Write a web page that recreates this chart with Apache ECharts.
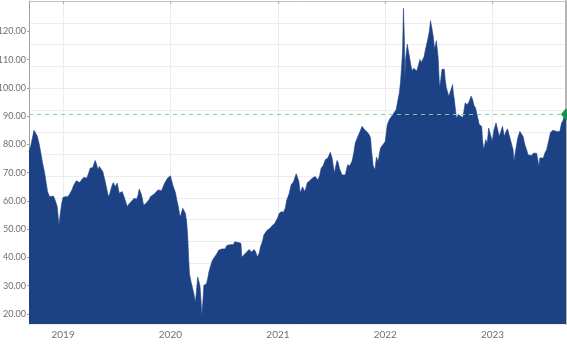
<!DOCTYPE html>
<html>
<head>
<meta charset="utf-8">
<script src="https://cdn.jsdelivr.net/npm/echarts@6/dist/echarts.min.js"></script>
<style>html,body{margin:0;padding:0;background:#fff}#c{width:567px;height:356px}</style>
</head>
<body>
<div id="c"></div>
<script>
const dates = [
'2018-09-07','2018-09-13','2018-09-18','2018-09-24','2018-09-29','2018-10-05','2018-10-12','2018-10-18','2018-10-23','2018-10-30',
'2018-11-05','2018-11-09','2018-11-16','2018-11-21','2018-11-29','2018-12-04','2018-12-08','2018-12-12','2018-12-18','2018-12-22',
'2018-12-27','2019-01-01','2019-01-10','2019-01-17','2019-01-24','2019-01-31','2019-02-06','2019-02-15','2019-02-21','2019-02-27',
'2019-03-05','2019-03-13','2019-03-22','2019-03-28','2019-04-03','2019-04-12','2019-04-20','2019-04-25','2019-04-29','2019-05-04',
'2019-05-10','2019-05-16','2019-05-23','2019-05-30','2019-06-04','2019-06-09','2019-06-15','2019-06-21','2019-06-27','2019-07-04',
'2019-07-11','2019-07-21','2019-07-29','2019-08-07','2019-08-14','2019-08-19','2019-08-31','2019-09-08','2019-09-13','2019-09-17',
'2019-09-25','2019-10-02','2019-10-09','2019-10-14','2019-10-21','2019-10-25','2019-10-31','2019-11-08','2019-11-14','2019-11-20',
'2019-11-26','2019-12-02','2019-12-11','2019-12-17','2019-12-22','2020-01-01','2020-01-05','2020-01-09','2020-01-14','2020-01-18',
'2020-01-23','2020-01-28','2020-02-03','2020-02-07','2020-02-12','2020-02-16','2020-02-21','2020-02-25','2020-02-29','2020-03-03',
'2020-03-06','2020-03-12','2020-03-17','2020-03-22','2020-03-25','2020-03-28','2020-04-03','2020-04-07','2020-04-11','2020-04-14',
'2020-04-17','2020-04-21','2020-04-24','2020-04-28','2020-05-03','2020-05-08','2020-05-11','2020-05-17','2020-05-23','2020-05-28',
'2020-06-03','2020-06-08','2020-06-13','2020-06-19','2020-06-24','2020-06-30','2020-07-05','2020-07-11','2020-07-16','2020-07-22',
'2020-07-27','2020-08-02','2020-08-07','2020-08-13','2020-08-18','2020-08-24','2020-08-28','2020-08-31','2020-09-06','2020-09-11',
'2020-09-17','2020-09-25','2020-10-03','2020-10-07','2020-10-12','2020-10-17','2020-10-23','2020-10-29','2020-11-03','2020-11-09',
'2020-11-14','2020-11-20','2020-11-25','2020-12-04','2020-12-09','2020-12-14','2020-12-21','2020-12-31','2021-01-05','2021-01-12',
'2021-01-20','2021-01-26','2021-01-31','2021-02-08','2021-02-15','2021-02-23','2021-02-28','2021-03-04','2021-03-08','2021-03-13',
'2021-03-18','2021-03-22','2021-03-26','2021-04-01','2021-04-06','2021-04-11','2021-04-18','2021-04-27','2021-05-03','2021-05-08',
'2021-05-13','2021-05-17','2021-05-23','2021-05-28','2021-06-04','2021-06-11','2021-06-20','2021-06-28','2021-07-04','2021-07-08',
'2021-07-12','2021-07-16','2021-07-21','2021-07-25','2021-07-29','2021-08-07','2021-08-13','2021-08-18','2021-08-26','2021-09-02',
'2021-09-10','2021-09-16','2021-09-21','2021-10-01','2021-10-07','2021-10-14','2021-10-19','2021-10-23','2021-11-01','2021-11-07',
'2021-11-12','2021-11-15','2021-11-21','2021-11-27','2021-12-02','2021-12-08','2021-12-12','2021-12-16','2021-12-24','2022-01-01',
'2022-01-08','2022-01-15','2022-01-21','2022-01-27','2022-02-02','2022-02-07','2022-02-12','2022-02-18','2022-02-22','2022-02-26',
'2022-03-01','2022-03-04','2022-03-07','2022-03-09','2022-03-11','2022-03-17','2022-03-21','2022-03-25','2022-03-29','2022-04-03',
'2022-04-08','2022-04-11','2022-04-14','2022-04-18','2022-04-24','2022-04-29','2022-05-03','2022-05-07','2022-05-13','2022-05-18',
'2022-05-26','2022-05-31','2022-06-04','2022-06-09','2022-06-13','2022-06-18','2022-06-24','2022-06-30','2022-07-03','2022-07-05',
'2022-07-09','2022-07-13','2022-07-18','2022-07-21','2022-07-24','2022-07-28','2022-08-05','2022-08-11','2022-08-15','2022-08-18',
'2022-08-21','2022-08-24','2022-08-31','2022-09-04','2022-09-07','2022-09-15','2022-09-22','2022-09-26','2022-09-30','2022-10-07',
'2022-10-13','2022-10-20','2022-10-25','2022-10-30','2022-11-04','2022-11-10','2022-11-17','2022-11-25','2022-11-28','2022-12-02',
'2022-12-09','2022-12-14','2022-12-19','2022-12-25','2022-12-31','2023-01-06','2023-01-13','2023-01-18','2023-01-24','2023-01-30',
'2023-02-04','2023-02-10','2023-02-16','2023-02-21','2023-02-28','2023-03-06','2023-03-12','2023-03-15','2023-03-20','2023-03-28',
'2023-04-04','2023-04-10','2023-04-15','2023-04-21','2023-04-27','2023-05-02','2023-05-08','2023-05-14','2023-05-20','2023-05-25',
'2023-05-31','2023-06-04','2023-06-08','2023-06-11','2023-06-17','2023-06-23','2023-06-28','2023-07-04','2023-07-12','2023-07-17',
'2023-07-25','2023-07-31','2023-08-07','2023-08-13','2023-08-18','2023-08-24','2023-08-29','2023-09-01','2023-09-05','2023-09-08'
];
const prices = [
77.5,79.5,82,85,84.5,83,80,76.5,73.5,70,
66,63.3,61.5,60.9,61.7,60.5,60,58,51.4,55,
59,61.3,61.5,61.5,62.5,63.9,65.5,67.1,66.8,66.5,
67.5,68.4,68.0,69.5,71.6,71.8,74.3,73,71,72.2,
72.8,70.4,67.4,64,61.5,62.5,65,66.5,65,66.3,
62.7,63.3,61,58,59,59.7,60.9,60.6,62,64.2,
62.1,58.5,59,59.7,60.5,61.5,60.9,62.5,63,63.9,
63.5,63.6,66,66.5,68,68.9,68.5,65.7,65.1,63,
60.3,58,54.2,55.5,57.4,57,55.6,53,47.3,40,
34,31,28.9,26.5,24.1,26,33,31.5,29.5,25,
19.4,25,30.1,30.3,30.7,33,34.8,37,39,39.5,
40.7,41.5,42.5,42,43,43.7,43,44.2,43.9,44.5,
44.9,44.5,45.5,45.7,45.3,45.5,45,40.1,40.8,41.3,
41.5,42.8,41.9,42.5,42.8,42,40.1,41.5,43.9,45.5,
47.9,48.5,49.6,50.2,50.5,51.4,52,54,55.5,56.2,
56,57.5,60.3,62.5,65.7,66.8,67.5,69.6,70,67,
62.7,64,65,63.3,64.5,66.5,67,68,68.5,68.6,
68.5,67.4,69,71.6,72.5,74.6,75.2,77.2,75.2,72.5,
69.8,72,74.3,73.5,71.6,69.2,69.5,69.2,72.8,72.4,
74,77,80.5,83.1,84.5,86.4,86,85.2,84.3,83.5,
82.3,78.1,72.4,71,75.5,74,76.5,78.7,79.9,81,
87,88.8,89.5,90.6,91,92.3,95,98.3,102,107.8,
113,128.2,118,103,110,115.5,113,110.7,108,106,
107,106.6,107.5,106,108,110.1,109,108.4,111,113.7,
117.3,120,123.8,121,118.4,113.7,116.7,110.7,104,100.1,
103,106.6,106,106.6,103,100.1,97.1,97.7,100,101.2,
98,95.9,89.4,90,90.6,90,89.5,92,94.7,94.1,
95,97.1,96,93.8,93,92.3,87,86.4,81.7,78.1,
81.7,80.5,85.8,85.2,81.1,85.2,87.6,87.4,82.8,83.5,
86.4,82.8,84.6,85.5,82.8,83.5,78.1,74,77.5,82.3,
84.6,84.6,82.8,79.9,78.1,76.3,76.9,76.1,76.9,76.3,
76.9,74.6,72.2,75.2,74.6,75.2,76.9,78.1,81.7,84.1,
85,85.5,84.6,85.2,84.6,87.6,88.5,89.8,90.2,90.65
];
const yTicks = [20, 30, 40, 50, 60, 70, 80, 90, 100, 110, 120];
const yearTicks = ['2019-01-01', '2020-01-01', '2021-01-01', '2022-01-01', '2023-01-01'];

function ts(s) { const p = s.split('-'); return Date.UTC(+p[0], +p[1] - 1, +p[2]); }
const seriesData = dates.map((d, i) => [ts(d), prices[i]]);
const last = seriesData[seriesData.length - 1];
const yearVals = yearTicks.map(ts);

const chart = echarts.init(document.getElementById('c'), null, { renderer: 'canvas' });
chart.setOption({
  animation: false,
  grid: { left: 29, right: 1, top: 1, bottom: 32, containLabel: false, outerBoundsMode: 'none' },
  xAxis: {
    type: 'value',
    min: seriesData[0][0],
    max: last[0],
    axisLine: { show: true, lineStyle: { color: '#c4c4c4', width: 1 } },
    axisTick: { show: true, customValues: yearVals, length: 3, lineStyle: { color: '#b0b0b0' } },
    axisLabel: {
      customValues: yearVals, margin: 6, color: '#707070', fontSize: 10, fontFamily: 'Lato',
      formatter: v => String(new Date(v).getUTCFullYear())
    },
    splitLine: { show: true, lineStyle: { color: '#ededed', width: 1 } }
  },
  yAxis: [{
    type: 'value',
    min: 16.4, max: 130.8,
    axisLine: { show: true, lineStyle: { color: '#a0a0a0' } },
    axisTick: { show: true, customValues: yTicks, length: 2, lineStyle: { color: '#a0a0a0' } },
    axisLabel: {
      customValues: yTicks, margin: 3, color: '#707070', fontSize: 9, fontFamily: 'Lato',
      formatter: v => v.toFixed(2)
    },
    splitLine: { show: false }
  }, {
    type: 'value', position: 'right', inverse: true,
    min: 0, max: 14.77, interval: 1,
    axisLine: { show: true, lineStyle: { color: '#b4b4b4', width: 2 } },
    axisTick: { show: false }, axisLabel: { show: false },
    splitLine: { show: true, lineStyle: { color: '#ededed', width: 1 } }
  }],
  series: [{
    type: 'line',
    yAxisIndex: 0,
    data: seriesData,
    showSymbol: false,
    symbol: 'none',
    lineStyle: { color: '#1c4185', width: 0.6 },
    areaStyle: { color: '#1c4185', opacity: 1, origin: 'start' },
    markLine: {
      silent: true, symbol: 'none', label: { show: false },
      lineStyle: { color: '#7fd09c', type: [4, 4], width: 1 },
      data: [{ yAxis: last[1] }]
    },
    markPoint: {
      silent: true, symbol: 'diamond', symbolSize: [10, 12],
      itemStyle: { color: '#11934a' }, label: { show: false },
      data: [{ coord: last }]
    },
    z: 3
  }]
});
</script>
</body>
</html>
